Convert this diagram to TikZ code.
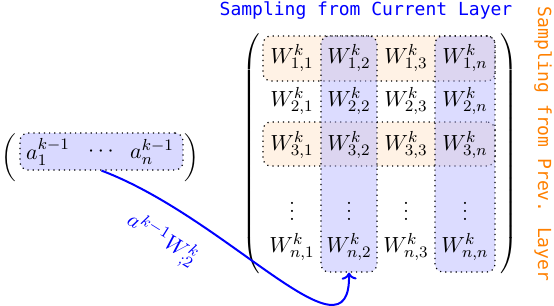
\documentclass[tikz,border=0pt]{standalone}
\usepackage{fontspec}
\newfontfamily\labfont{DejaVu Sans Mono}[Scale=0.9]
\usetikzlibrary{fit,calc,arrows.meta}
\tikzset{
  rowbox/.style={draw, dotted, line width=0.6pt, rounded corners=4pt, fill=orange!10, inner sep=0pt},
  colbox/.style={draw, dotted, line width=0.6pt, rounded corners=4pt, fill=blue!30, fill opacity=0.45, inner sep=0pt},
  vecbox/.style={draw, dotted, line width=0.6pt, rounded corners=4pt, fill=blue!15, inner sep=0pt},
  entry/.style={inner sep=0pt, font=\fontsize{11}{13}\selectfont},
  paren/.style={inner sep=0pt},
  lab/.style={font=\labfont, inner sep=0pt},
  arr/.style={blue, line width=1pt, -{To[length=3.5pt,width=7.5pt]}},
}
\begin{document}
\begin{tikzpicture}[x=0.5pt,y=-0.5pt]
\useasboundingbox (0,0) rectangle (554,306);
% highlight boxes
\node[rowbox, fit={(263,36) (495,81)}] (row1) {};
\node[rowbox, fit={(263,122) (495,166)}] (row3) {};
\node[colbox, fit={(321,36) (377,272)}] (col2) {};
\node[colbox, fit={(435,36) (495,272)}] (col4) {};
% matrix entries
\node[entry] (w11) at (292,58) {$W^k_{1,1}$};
\node[entry] (w12) at (349,58) {$W^k_{1,2}$};
\node[entry] (w13) at (406,58) {$W^k_{1,3}$};
\node[entry] (w1n) at (465,58) {$W^k_{1,n}$};
\node[entry] (w21) at (292,101) {$W^k_{2,1}$};
\node[entry] (w22) at (349,101) {$W^k_{2,2}$};
\node[entry] (w23) at (406,101) {$W^k_{2,3}$};
\node[entry] (w2n) at (465,101) {$W^k_{2,n}$};
\node[entry] (w31) at (292,145) {$W^k_{3,1}$};
\node[entry] (w32) at (349,145) {$W^k_{3,2}$};
\node[entry] (w33) at (406,145) {$W^k_{3,3}$};
\node[entry] (w3n) at (465,145) {$W^k_{3,n}$};
\node[entry] (v1) at (292,205) {$\vdots$};
\node[entry] (v2) at (349,205) {$\vdots$};
\node[entry] (v3) at (406,205) {$\vdots$};
\node[entry] (vn) at (465,205) {$\vdots$};
\node[entry] (wn1) at (292,247) {$W^k_{n,1}$};
\node[entry] (wn2) at (349,247) {$W^k_{n,2}$};
\node[entry] (wn3) at (406,247) {$W^k_{n,3}$};
\node[entry] (wnn) at (465,247) {$W^k_{n,n}$};
% matrix parentheses
\node[paren] (mlp) at (252,154) {$\left(\vcenter{\hrule height 62pt depth 62pt width 0pt}\right.$};
\node[paren] (mrp) at (508,154) {$\left.\vcenter{\hrule height 62pt depth 62pt width 0pt}\right)$};
% vector
\node[vecbox, fit={(20,133) (183,170)}] (vbox) {};
\node[entry] (a1) at (48,152) {$a_1^{k-1}$};
\node[entry] (adots) at (101,152) {$\cdots$};
\node[entry] (an) at (152,152) {$a_n^{k-1}$};
\node[paren] (vlp) at (10,158) {$\left(\vcenter{\hrule height 11pt depth 11pt width 0pt}\right.$};
\node[paren] (vrp) at (191,158) {$\left.\vcenter{\hrule height 11pt depth 11pt width 0pt}\right)$};
% arrow
\draw[arr] (vbox.south) .. controls ($(vbox.south)+(127,48)$) and ($(col2.south)+(2,96)$) .. (col2.south);
\node[entry, text=blue, rotate=-32] (alab) at (162,240) {$a^{k-1}W^k_{;2}$};
% labels
\node[lab, text=blue] (toplab) at (366,11) {Sampling from Current Layer};
\node[lab, text=orange, rotate=-90] (rightlab) at (543,144) {Sampling from Prev. Layer};
\end{tikzpicture}
\end{document}
